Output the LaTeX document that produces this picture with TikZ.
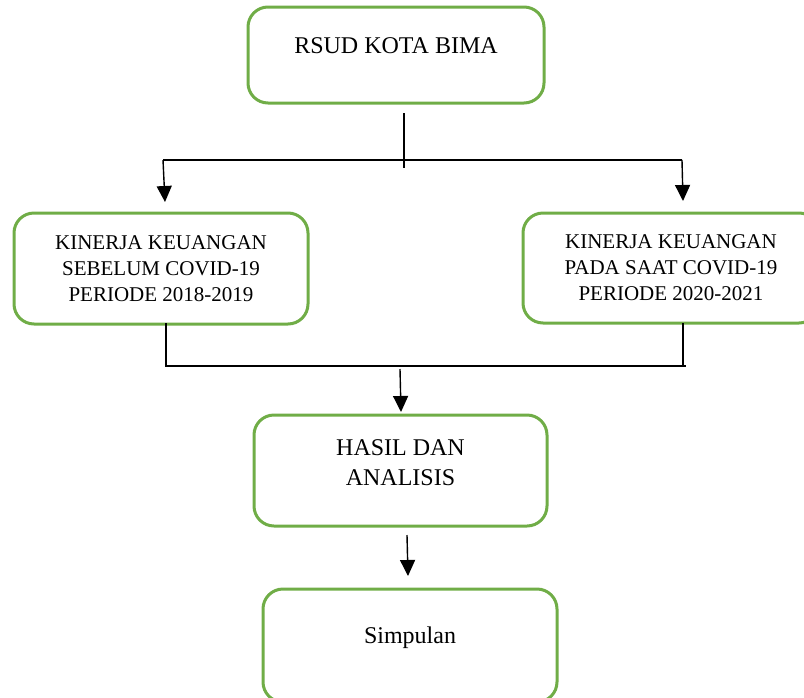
\documentclass[tikz,border=0pt]{standalone}
\usepackage{fontspec}
\setmainfont{Liberation Serif}
\usetikzlibrary{arrows.meta}
\definecolor{boxgreen}{HTML}{70AD47}
\begin{document}
\begin{tikzpicture}[x=0.5pt,y=-0.5pt,
    box/.style={draw=boxgreen,line width=1.5pt,rounded corners=10pt,inner sep=0pt,align=center,font=\fontsize{12}{15}\selectfont},
    side/.style={box,minimum height=55.5pt,font=\fontsize{10.5}{13}\selectfont},
    link/.style={line width=0.7pt},
    arr/.style={link,-{Triangle[width=7.5pt,length=8pt]}}]
  \useasboundingbox (0,0) rectangle (804,697);
  % boxes
  \node[box,minimum width=148pt,text height=23pt,text depth=25pt] (rsud) at (396,55) {RSUD KOTA BIMA};
  \node[side,minimum width=147pt] (before) at (161,268.5) {KINERJA KEUANGAN\\SEBELUM COVID-19\\PERIODE 2018-2019};
  \node[side,minimum width=148pt,minimum height=55pt] (during) at (671,268) {KINERJA KEUANGAN\\PADA SAAT COVID-19\\PERIODE 2020-2021};
  \node[box,minimum width=146.5pt,text height=35pt,text depth=20.5pt] (hasil) at (400.5,470.5) {HASIL DAN\\ANALISIS};
  \node[box,minimum width=147pt,text height=27pt,text depth=29.5pt] (simpulan) at (410,645.5) {Simpulan};
  % connector points
  \coordinate (up1) at (404,113);
  \coordinate (up2) at (404,168);
  \coordinate (splitL) at (163,160);
  \coordinate (splitR) at (682,160);
  \coordinate (tipL) at (165,202);
  \coordinate (tipR) at (683,201);
  \coordinate (joinL) at (166,323);
  \coordinate (joinL2) at (166,366);
  \coordinate (joinR) at (683,323);
  \coordinate (joinR2) at (683,366);
  \coordinate (joinE) at (686,366);
  \coordinate (mid1) at (400,369);
  \coordinate (mid2) at (401,412);
  \coordinate (low1) at (407,535);
  \coordinate (low2) at (408,576);
  % connectors
  \draw[link] (up1) -- (up2);
  \draw[link] (splitL) -- (splitR);
  \draw[arr] (splitL) -- (tipL);
  \draw[arr] (splitR) -- (tipR);
  \draw[link] (joinL) -- (joinL2) -- (joinE);
  \draw[link] (joinR) -- (joinR2);
  \draw[arr] (mid1) -- (mid2);
  \draw[arr] (low1) -- (low2);
\end{tikzpicture}
\end{document}
